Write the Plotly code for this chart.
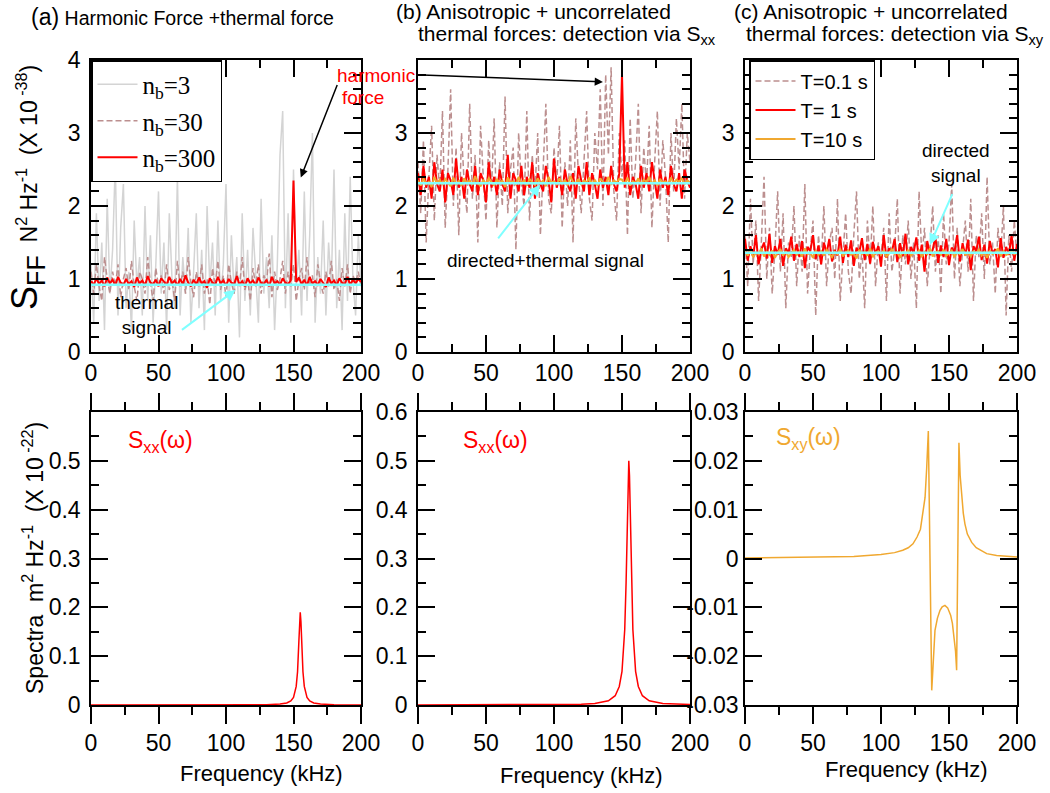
import plotly.graph_objects as go

W, H = 1050, 793
FONT = "Liberation Sans, Arial, Helvetica, sans-serif"
SERIF = "Liberation Serif, Times New Roman, serif"

# ---------------- data ----------------
freq_khz = list(range(0, 202, 2))

# (a) harmonic force + thermal force
a_nb3 = [1.2,0.4,1.9,0.7,1.5,0.3,2.1,0.8,1.4,2.6,0.5,1.7,2.3,0.6,1.1,0.3,1.8,0.9,1.3,0.5,
         2.0,0.7,1.6,0.4,1.2,2.2,0.8,1.5,0.3,1.9,1.0,0.6,2.4,0.5,1.3,0.8,1.7,0.4,1.1,1.9,
         0.6,1.4,0.3,2.0,0.9,1.5,0.5,1.8,0.7,1.2,2.3,0.4,1.6,0.8,1.3,0.2,1.9,0.7,1.4,0.5,
         1.7,1.0,0.4,2.1,0.8,1.3,0.6,1.6,0.3,1.2,2.7,3.3,0.6,1.9,0.4,2.5,0.9,1.4,0.5,2.2,
         0.7,1.6,3.0,0.4,1.3,0.8,1.8,0.5,1.5,0.9,2.5,0.6,1.4,0.3,1.9,0.7,2.4,1.0,0.5,1.6,0.9]
a_nb30 = [1.1,0.8,1.2,0.9,0.7,1.3,1.0,0.8,1.1,0.9,1.2,0.75,1.0,1.15,0.85,1.25,0.9,0.7,1.1,1.0,
          0.8,1.3,0.95,0.7,1.15,0.9,1.05,0.8,1.2,0.85,1.0,0.7,1.25,0.9,1.1,0.8,1.3,0.95,0.75,1.1,
          0.9,1.2,0.8,1.0,0.65,1.15,0.9,1.25,0.85,1.05,0.75,1.2,0.95,0.8,1.1,0.9,1.3,0.85,1.0,0.7,
          1.15,0.9,1.2,0.8,1.05,0.95,1.35,0.75,1.1,0.85,1.0,1.25,0.8,1.1,0.9,1.2,0.7,1.0,1.15,0.85,
          1.3,0.9,1.05,0.75,1.2,0.95,0.8,1.1,0.9,1.25,0.85,1.0,0.7,1.15,0.9,1.2,0.8,1.05,0.95,1.1,0.9]
a_nb300 = [0.97,0.92,1.01,0.93,0.98,0.90,1.02,0.94,0.99,0.91,1.03,0.95,0.92,1.00,0.93,0.97,0.89,1.02,0.94,0.98,
           0.91,1.04,0.95,0.93,0.99,0.90,1.01,0.96,0.92,1.03,0.94,0.98,0.91,1.00,0.93,1.05,0.95,0.90,0.99,0.93,
           1.02,0.94,0.97,0.88,1.01,0.95,0.92,1.03,0.94,0.98,0.91,1.00,0.95,0.93,1.04,0.92,0.97,0.90,1.01,0.94,
           0.98,0.91,1.02,0.95,0.93,0.99,0.90,1.03,0.94,0.97,0.92,1.01,0.95,0.93,0.98,2.35,0.96,1.02,0.93,0.99,
           0.91,1.03,0.94,0.97,0.92,1.00,0.95,0.89,1.02,0.94,0.98,0.91,1.01,0.95,0.93,1.03,0.92,0.99,0.94,1.00,0.96]
thermal_level_a = 0.92

# (b) anisotropic + uncorrelated, detection via Sxx
b_T01 = [2.6,1.9,2.9,1.5,2.4,3.1,1.8,2.7,2.2,3.3,1.7,2.5,3.6,2.0,2.8,1.6,3.0,2.3,1.9,3.4,
         2.1,2.7,1.5,3.1,2.4,1.8,2.9,2.2,3.2,1.7,2.6,2.0,3.5,1.9,2.5,2.8,1.4,3.0,2.3,2.0,
         3.3,1.8,2.7,2.2,3.0,1.6,2.5,3.4,2.1,1.9,2.8,2.3,3.1,1.7,2.6,2.0,2.9,1.5,3.2,2.4,
         1.9,2.7,3.3,2.1,1.8,3.0,2.5,3.6,2.0,3.8,2.7,3.9,2.2,1.8,3.0,2.4,2.9,1.6,3.2,2.1,
         2.6,3.4,1.9,2.8,2.3,3.1,1.7,2.6,3.3,2.0,2.9,2.4,1.5,3.0,2.2,3.2,2.5,3.4,2.1,3.0,2.6]
b_T1 = [2.45,2.15,2.55,2.25,2.40,2.10,2.60,2.30,2.20,2.50,2.05,2.45,2.35,2.15,2.65,2.25,2.40,2.10,2.50,2.30,
        2.20,2.55,2.15,2.45,2.35,2.05,2.60,2.25,2.40,2.15,2.50,2.30,2.20,2.70,2.10,2.45,2.35,2.20,2.55,2.15,
        2.40,2.25,2.60,2.10,2.45,2.30,2.20,2.55,2.35,2.05,2.65,2.25,2.40,2.15,2.50,2.30,2.20,2.45,2.10,2.55,
        2.35,2.20,2.60,2.15,2.45,2.30,2.10,2.50,2.25,2.40,2.15,2.55,2.30,2.20,2.45,3.80,2.25,2.60,2.15,2.40,
        2.30,2.10,2.55,2.25,2.45,2.20,2.60,2.35,2.10,2.50,2.25,2.40,2.15,2.55,2.30,2.20,2.45,2.10,2.50,2.35,2.25]
b_T10 = [2.35,2.28,2.38,2.30,2.33,2.26,2.40,2.31,2.36,2.29,2.37,2.32,2.27,2.39,2.30,2.34,2.28,2.38,2.31,2.35,
         2.29,2.41,2.32,2.27,2.36,2.30,2.38,2.33,2.28,2.37,2.31,2.35,2.26,2.39,2.32,2.34,2.29,2.40,2.30,2.36,
         2.28,2.37,2.33,2.29,2.38,2.31,2.35,2.27,2.40,2.32,2.34,2.29,2.38,2.30,2.36,2.28,2.41,2.33,2.31,2.37,
         2.29,2.35,2.32,2.39,2.30,2.36,2.28,2.38,2.33,2.31,2.40,2.29,2.35,2.32,2.37,2.36,2.30,2.39,2.28,2.34,
         2.31,2.38,2.29,2.36,2.33,2.40,2.30,2.35,2.28,2.37,2.32,2.34,2.29,2.39,2.31,2.36,2.33,2.38,2.30,2.35,2.32]
signal_level_b = 2.31

# (c) anisotropic + uncorrelated, detection via Sxy
c_T01 = [1.6,0.9,2.1,1.2,1.8,0.7,1.5,2.4,1.0,1.7,0.8,1.4,2.2,1.1,1.9,0.6,1.5,1.3,2.0,0.9,
         1.6,1.1,2.3,0.8,1.4,1.8,0.5,1.6,1.2,2.0,0.9,1.5,1.7,1.0,2.1,0.7,1.3,1.9,1.1,0.8,
         1.6,2.2,1.0,1.4,0.6,1.8,1.2,2.0,0.9,1.5,1.3,1.7,0.7,1.9,1.1,1.4,2.1,0.8,1.6,1.2,
         1.8,1.0,1.5,0.6,2.2,1.3,1.7,0.9,1.4,2.0,1.1,1.6,0.8,1.9,1.2,1.5,2.3,1.0,1.7,0.9,
         1.4,1.8,1.1,2.1,0.7,1.6,1.3,1.9,1.0,2.4,1.2,1.5,0.8,1.7,1.3,2.0,0.5,1.6,1.1,1.8,1.3]
c_T1 = [1.55,1.25,1.45,1.30,1.60,1.20,1.40,1.50,1.28,1.62,1.22,1.45,1.33,1.55,1.18,1.42,1.35,1.58,1.25,1.48,
        1.30,1.52,1.15,1.44,1.38,1.60,1.27,1.46,1.20,1.50,1.35,1.55,1.24,1.40,1.32,1.58,1.22,1.47,1.30,1.53,
        1.18,1.43,1.36,1.56,1.26,1.48,1.21,1.51,1.34,1.45,1.17,1.60,1.29,1.42,1.37,1.55,1.23,1.49,1.31,1.62,
        1.20,1.44,1.36,1.57,1.25,1.47,1.10,1.52,1.33,1.40,1.58,1.22,1.46,1.30,1.55,1.19,1.43,1.37,1.60,1.24,
        1.49,1.32,1.54,1.12,1.45,1.38,1.58,1.26,1.47,1.21,1.52,1.35,1.41,1.16,1.56,1.29,1.44,1.33,1.60,1.25,1.48]
c_T10 = [1.38,1.32,1.40,1.30,1.36,1.34,1.42,1.31,1.37,1.33,1.39,1.29,1.36,1.41,1.32,1.38,1.30,1.35,1.40,1.33,
         1.37,1.31,1.42,1.34,1.36,1.29,1.39,1.33,1.38,1.32,1.40,1.35,1.30,1.37,1.34,1.41,1.31,1.36,1.39,1.33,
         1.35,1.28,1.40,1.34,1.37,1.32,1.42,1.30,1.36,1.38,1.33,1.39,1.31,1.35,1.41,1.34,1.37,1.29,1.38,1.33,
         1.40,1.32,1.36,1.35,1.39,1.30,1.37,1.34,1.42,1.31,1.36,1.38,1.33,1.40,1.32,1.35,1.39,1.30,1.37,1.34,
         1.41,1.33,1.36,1.31,1.38,1.35,1.40,1.32,1.37,1.29,1.39,1.34,1.36,1.42,1.31,1.38,1.33,1.35,1.40,1.34,1.36]
signal_level_c = 1.36

# bottom row spectra (x 10^-22 m^2/Hz)
peak_freq = [0,50,100,120,130,140,145,148,150,152,153,154,154.5,155,155.5,156,157,158,160,162,165,170,180,200]
sxx_a = [0.0,0.00004,0.00014,0.00035,0.0007,0.0019,0.0042,0.0083,0.0157,0.038,0.068,0.1315,0.171,0.19,
         0.171,0.1315,0.068,0.038,0.0157,0.0083,0.0042,0.0019,0.0007,0.0002]
sxx_b = [0.0001,0.0002,0.0007,0.0016,0.0032,0.0087,0.019,0.038,0.069,0.154,0.25,0.40,0.47,0.50,
         0.47,0.40,0.25,0.154,0.069,0.038,0.019,0.0087,0.0032,0.001]
sxy_freq = [0,50,80,100,110,116,120,123.5,126.5,129,130.5,132.4,133.6,134.8,137.3,138.5,139.7,141.5,143.4,145,
            147,149,151.2,152.5,153.7,154.8,155.6,157.3,158.2,159.3,160.5,161.7,163.5,166.7,170,177.7,185,200]
sxy_c = [0.0001,0.0002,0.0004,0.0008,0.0012,0.0017,0.0022,0.003,0.0044,0.006,
         0.0085,0.0125,0.0186,0.0261,-0.027,-0.0195,-0.0147,-0.0122,-0.0106,-0.0099,
         -0.0096,-0.0101,-0.0116,-0.0133,-0.016,-0.019,-0.0229,0.0237,0.017,0.0125,
         0.0093,0.0071,0.005,0.0033,0.0022,0.001,0.0006,0.0003]

GREY = "#d4d4d4"
ROSY = "#bc8f8f"
RED = "#ff0000"
ORANGE = "#f0a830"
CYAN = "#80ffff"

fig = go.Figure()

def add(x, y, xa, ya, color, width=1.6, dash=None, name=None, legend=None, showlegend=False):
    fig.add_trace(go.Scatter(
        x=x, y=y, xaxis=xa, yaxis=ya, mode="lines", name=name,
        line=dict(color=color, width=width, dash=dash),
        showlegend=showlegend, legend=legend or "legend", legendgroup=name,
        hoverinfo="skip"))

DASH = "6px,3px"
# (a)
add(freq_khz, a_nb3, "x", "y", GREY, 1.5, name="n<sub>b</sub>=3", legend="legend", showlegend=True)
add(freq_khz, a_nb30, "x", "y", ROSY, 1.5, DASH, name="n<sub>b</sub>=30", legend="legend", showlegend=True)
add(freq_khz, a_nb300, "x", "y", RED, 2, name="n<sub>b</sub>=300", legend="legend", showlegend=True)
add([0, 200], [thermal_level_a, thermal_level_a], "x", "y", CYAN, 2.5)
# (b)
add(freq_khz, b_T01, "x2", "y2", ROSY, 1.5, DASH)
add(freq_khz, b_T1, "x2", "y2", RED, 2)
add(freq_khz, b_T10, "x2", "y2", ORANGE, 2)
add([0, 200], [signal_level_b, signal_level_b], "x2", "y2", CYAN, 2.5)
# (c)
add(freq_khz, c_T01, "x3", "y3", ROSY, 1.5, DASH, name="T=0.1 s", legend="legend2", showlegend=True)
add(freq_khz, c_T1, "x3", "y3", RED, 2, name="T= 1 s", legend="legend2", showlegend=True)
add(freq_khz, c_T10, "x3", "y3", ORANGE, 2, name="T=10 s", legend="legend2", showlegend=True)
add([0, 200], [signal_level_c, signal_level_c], "x3", "y3", CYAN, 2.5)
# bottom
add(peak_freq, sxx_a, "x4", "y4", RED, 1.5)
add(peak_freq, sxx_b, "x5", "y5", RED, 1.5)
add(sxy_freq, sxy_c, "x6", "y6", ORANGE, 1.5)

def px(x):
    return x / W

def py(y):
    return 1 - y / H

top_dom = [py(352), py(60)]
bot_dom = [py(705), py(412)]
xdoms = [[px(91), px(361)], [px(418), px(690)], [px(745), px(1017)]]

axis_common = dict(showline=True, linecolor="black", linewidth=1.5, mirror="allticks",
                   showgrid=False, zeroline=False, tickcolor="black", tickwidth=1.5,
                   automargin=False,
                   tickfont=dict(family=FONT, size=23, color="black"))

layout = {}
for i in range(6):
    n = "" if i == 0 else str(i + 1)
    top = i < 3
    xa = dict(axis_common, domain=xdoms[i % 3], range=[0, 200], anchor="y" + n,
              tickmode="linear", tick0=0, dtick=50,
              ticks="inside" if top else "outside", ticklen=17,
              minor=dict(tickmode="linear", tick0=0, dtick=25, ticks="inside" if top else "outside",
                         ticklen=8, tickcolor="black", tickwidth=1.5, showgrid=False))
    ya = dict(axis_common, domain=top_dom if top else bot_dom, anchor="x" + n,
              ticks="inside", ticklen=17, ticklabelstandoff=4)
    layout["xaxis" + n] = xa
    layout["yaxis" + n] = ya

minor_y = lambda d: dict(tickmode="linear", tick0=0, dtick=d, ticks="inside", ticklen=8,
                         tickcolor="black", tickwidth=1.5)
layout["yaxis"].update(range=[0, 4], tickmode="array", tickvals=[0, 1, 2, 3, 4], minor=minor_y(0.2))
for k in ["yaxis2", "yaxis3"]:
    layout[k].update(range=[0, 4], tickmode="array", tickvals=[0, 1, 2, 3], minor=minor_y(0.2))
layout["yaxis4"].update(range=[0, 0.6], tickmode="array", tickvals=[0, 0.1, 0.2, 0.3, 0.4, 0.5],
                        ticktext=["0", "0.1", "0.2", "0.3", "0.4", "0.5"], minor=minor_y(0.05))
layout["yaxis5"].update(range=[0, 0.6], tickmode="array", tickvals=[0, 0.1, 0.2, 0.3, 0.4, 0.5, 0.6],
                        ticktext=["0", "0.1", "0.2", "0.3", "0.4", "0.5", "0.6"], minor=minor_y(0.05))
layout["yaxis6"].update(range=[-0.03, 0.03], tickmode="array",
                        tickvals=[-0.03, -0.02, -0.01, 0, 0.01, 0.02, 0.03],
                        ticktext=["-0.03", "-0.02", "-0.01", "0", "0.01", "0.02", "0.03"],
                        ticklabelstandoff=0, minor=minor_y(0.005))

fig.update_layout(**layout)

ann = []

def text(x, y, t, size=19, color="black", xanchor="center", angle=0, family=FONT):
    ann.append(dict(xref="paper", yref="paper", x=px(x), y=py(y), text=t, showarrow=False,
                    xanchor=xanchor, yanchor="middle", textangle=angle,
                    font=dict(family=family, size=size, color=color)))

# titles
text(29, 17, "<span style='font-size:23px'>(a)</span> Harmonic Force +thermal force", 19.5, xanchor="left")
text(394, 12, "(b) Anisotropic + uncorrelated", 21, xanchor="left")
text(416, 35, "thermal forces: detection via S<sub>xx</sub>", 21, xanchor="left")
text(732, 12, "(c) Anisotropic + uncorrelated", 21, xanchor="left")
text(744, 35, "thermal forces: detection via S<sub>xy</sub>", 21, xanchor="left")

# y titles
text(27, 188, "<span style='font-size:36px'>S<sub>FF</sub></span>  N<sup>2</sup> Hz<sup>-1</sup>  (X 10<sup> -38</sup>)",
     23, angle=-90)
text(33, 558, "Spectra  m<sup>2</sup> Hz<sup>-1</sup>  (X 10<sup> -22</sup>)", 23, angle=-90)

# x titles
text(261, 773, "Frequency (kHz)", 22)
text(581, 775, "Frequency (kHz)", 22)
text(906, 769, "Frequency (kHz)", 22)

# inner labels
text(335, 75, "harmonic", 19, color=RED, xanchor="left")
text(340, 97, "force", 19, color=RED, xanchor="left")
text(146, 315, "thermal<br>signal", 19)
text(545, 261, "directed+thermal signal", 19)
text(956, 163, "directed<br>signal", 19)
text(160, 441, "S<sub>xx</sub>(ω)", 23, color=RED)
text(495, 441, "S<sub>xx</sub>(ω)", 23, color=RED)
text(808, 438, "S<sub>xy</sub>(ω)", 23, color=ORANGE)

def arrow(xa, ya, x, y, ax, ay, color, width):
    ann.append(dict(xref=xa, yref=ya, x=x, y=y, ax=ax, ay=ay, axref="pixel", ayref="pixel",
                    text="", showarrow=True, arrowhead=2, arrowsize=1.1, arrowwidth=width,
                    arrowcolor=color, standoff=0, startstandoff=0))

arrow("x", "y", 155.4, 2.39, 37, -94, "black", 1.5)
arrow("x2", "y2", 136, 3.70, -182, -7, "black", 1.5)
arrow("x", "y", 107, 0.85, -55, 41, CYAN, 2)
arrow("x2", "y2", 89.7, 2.29, -43, 55, CYAN, 2)
arrow("x3", "y3", 136, 1.47, 23, -52, CYAN, 2)

legend_common = dict(xanchor="left", yanchor="top", bgcolor="white", bordercolor="black",
                     borderwidth=1.5, itemwidth=40)

fig.update_layout(
    width=W, height=H, margin=dict(l=0, r=0, t=0, b=0, autoexpand=False),
    paper_bgcolor="white", plot_bgcolor="white",
    annotations=ann,
    legend=dict(legend_common, x=px(91), y=py(60), tracegroupgap=1,
                font=dict(family=SERIF, size=25, color="black")),
    legend2=dict(legend_common, x=px(749), y=py(60), tracegroupgap=0,
                 font=dict(family=FONT, size=20, color="black")),
    font=dict(family=FONT),
)

fig.write_html("out.html", config={"displayModeBar": False},
               post_script="document.body.style.margin='0px';")
